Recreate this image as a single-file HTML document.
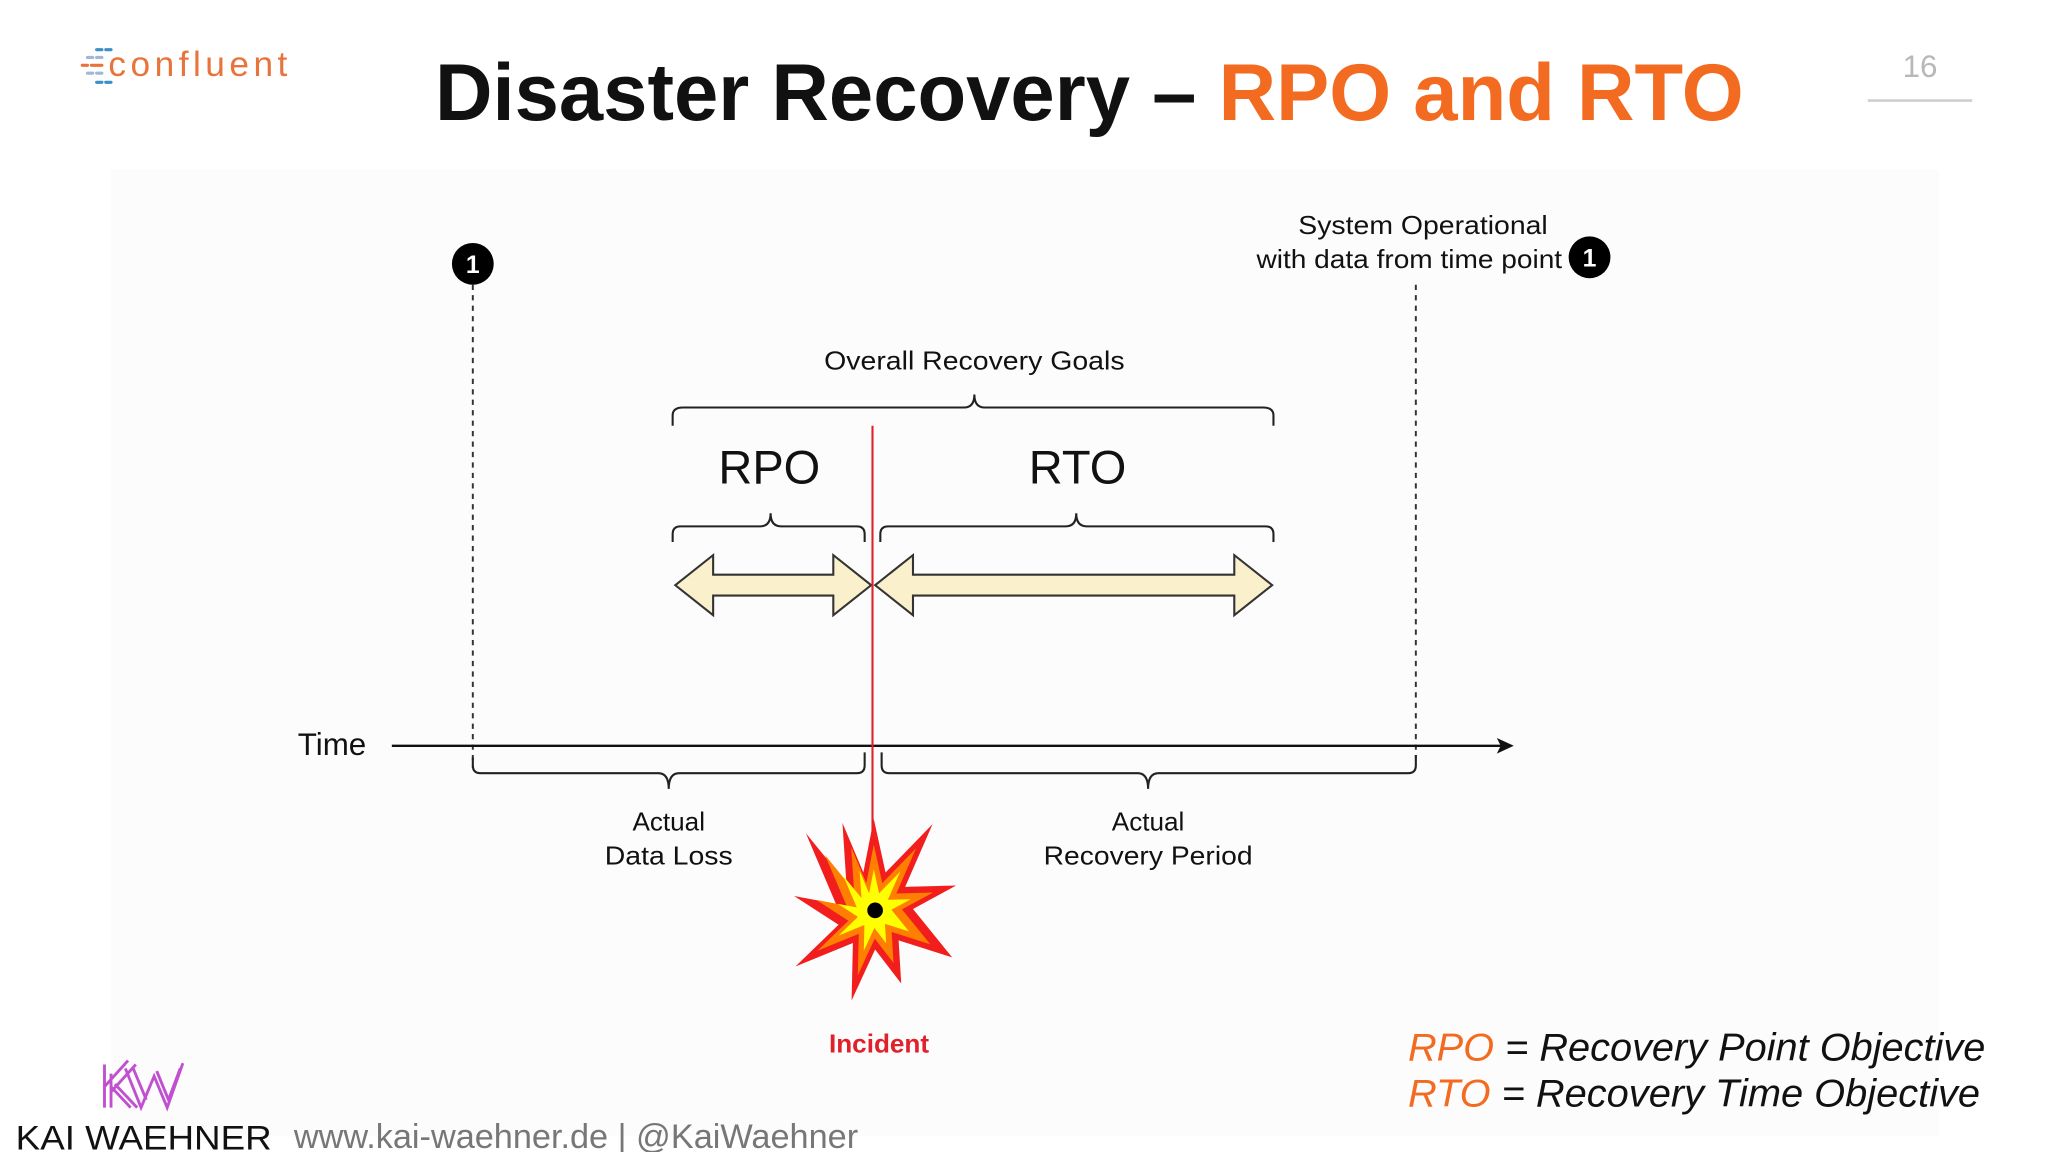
<!DOCTYPE html>
<html><head><meta charset="utf-8"><style>
html,body{margin:0;padding:0;background:#fff;}
svg{display:block;}
</style></head><body>
<svg width="2048" height="1152" viewBox="0 0 1568 882" xmlns="http://www.w3.org/2000/svg" font-family="Liberation Sans, sans-serif">
<rect width="1568" height="882" fill="#fff"/>
<rect x="85" y="130" width="1400" height="740" fill="#fcfcfc"/>
<!-- confluent logo -->
<g stroke-width="2.4" stroke-linecap="round">
<line x1="74" y1="38" x2="78" y2="38" stroke="#3a8fc6"/><line x1="81" y1="38" x2="85" y2="38" stroke="#3a8fc6"/>
<line x1="67" y1="44" x2="71" y2="44" stroke="#9fb8d6"/><line x1="74" y1="44" x2="78" y2="44" stroke="#9fb8d6"/>
<line x1="63" y1="50" x2="67" y2="50" stroke="#e8743b"/><line x1="70" y1="50" x2="78" y2="50" stroke="#e8743b"/>
<line x1="67" y1="56" x2="71" y2="56" stroke="#9fb8d6"/><line x1="74" y1="56" x2="78" y2="56" stroke="#9fb8d6"/>
<line x1="74" y1="63" x2="78" y2="63" stroke="#3a8fc6"/><line x1="81" y1="63" x2="85" y2="63" stroke="#3a8fc6"/>
</g>
<text x="83" y="58" font-size="27" fill="#e8743b" textLength="137" lengthAdjust="spacing">confluent</text>
<!-- title -->
<text x="333" y="92" font-size="62" font-weight="bold" fill="#111" textLength="1002" lengthAdjust="spacingAndGlyphs">Disaster Recovery – <tspan fill="#f26b21">RPO and RTO</tspan></text>
<text x="1470" y="59" text-anchor="middle" font-size="24" fill="#b8b8b8">16</text>
<line x1="1430" y1="77" x2="1510" y2="77" stroke="#cfcfcf" stroke-width="2"/>
<!-- markers -->
<circle cx="362" cy="202" r="16" fill="#000"/>
<text x="362" y="209" text-anchor="middle" font-size="19" font-weight="bold" fill="#fff">1</text>
<line x1="362" y1="218" x2="362" y2="588" stroke="#333" stroke-width="1.5" stroke-dasharray="4,4"/>
<text x="994" y="179" font-size="20" fill="#111" textLength="191" lengthAdjust="spacingAndGlyphs">System Operational</text>
<text x="962" y="205" font-size="20" fill="#111" textLength="234" lengthAdjust="spacingAndGlyphs">with data from time point</text>
<circle cx="1217" cy="197" r="16" fill="#000"/>
<text x="1217" y="204" text-anchor="middle" font-size="19" font-weight="bold" fill="#fff">1</text>
<line x1="1084" y1="218" x2="1084" y2="580" stroke="#333" stroke-width="1.5" stroke-dasharray="4,4"/>
<!-- overall -->
<text x="631" y="283" font-size="20" fill="#111" textLength="230" lengthAdjust="spacingAndGlyphs">Overall Recovery Goals</text>
<g fill="none" stroke="#222" stroke-width="1.6">
<path d="M515,326 L515,318 Q515,312 523,312 L738,312 Q746,312 746,302 Q746,312 754,312 L967,312 Q975,312 975,318 L975,326"/>
<path d="M515,415 L515,409 Q515,403 521,403 L582,403 Q590,403 590,393 Q590,403 598,403 L656,403 Q662,403 662,409 L662,415"/>
<path d="M674,415 L674,409 Q674,403 680,403 L816,403 Q824,403 824,393 Q824,403 832,403 L969,403 Q975,403 975,409 L975,415"/>
<path d="M362,580 L362,586 Q362,592 368,592 L504,592 Q512,592 512,604 Q512,592 520,592 L656,592 Q662,592 662,586 L662,576"/>
<path d="M675,576 L675,586 Q675,592 681,592 L871,592 Q879,592 879,604 Q879,592 887,592 L1078,592 Q1084,592 1084,586 L1084,578"/>
</g>
<text x="589" y="370" text-anchor="middle" font-size="36" fill="#111">RPO</text>
<text x="825" y="370" text-anchor="middle" font-size="36" fill="#111">RTO</text>
<!-- arrows -->
<g fill="#fbf0cc" stroke="#333" stroke-width="1.6" stroke-linejoin="miter">
<polygon points="517,448 546,425 546,440 638,440 638,425 667,448 638,471 638,456 546,456 546,471"/>
<polygon points="670,448 699,425 699,440 945,440 945,425 974,448 945,471 945,456 699,456 699,471"/>
</g>
<!-- time axis -->
<text x="228" y="578" font-size="24" fill="#111">Time</text>
<line x1="300" y1="571" x2="1150" y2="571" stroke="#111" stroke-width="1.8"/>
<polygon points="1159,571 1146,565 1149,571 1146,577" fill="#111"/>
<!-- red line -->
<line x1="668" y1="326" x2="668" y2="645" stroke="#e0202a" stroke-width="1.6"/>
<text x="512" y="636" text-anchor="middle" font-size="20" fill="#111">Actual</text>
<text x="512" y="662" text-anchor="middle" font-size="20" fill="#111" textLength="98" lengthAdjust="spacingAndGlyphs">Data Loss</text>
<text x="879" y="636" text-anchor="middle" font-size="20" fill="#111">Actual</text>
<text x="879" y="662" text-anchor="middle" font-size="20" fill="#111" textLength="160" lengthAdjust="spacingAndGlyphs">Recovery Period</text>
<!-- explosion -->
<g>
<polygon fill="#f21d1d" points="669,627 678,668 714,631 693,679 732,678 699,696 729,733 688,720 690,753 670,727 652,766 653,722 609,740 642,708 608,686 640,692 617,638 648,676 645,630 661,668"/>
<polygon fill="#ff7f00" transform="translate(669,697) scale(0.72) translate(-669,-697)" points="669,627 678,668 714,631 693,679 732,678 699,696 729,733 688,720 690,753 670,727 652,766 653,722 609,740 642,708 608,686 640,692 617,638 648,676 645,630 661,668"/>
<polygon fill="#ffff00" transform="translate(669,697) scale(0.45) translate(-669,-697)" points="669,627 678,668 714,631 693,679 732,678 699,696 729,733 688,720 690,753 670,727 652,766 653,722 609,740 642,708 608,686 640,692 617,638 648,676 645,630 661,668"/>
<circle cx="670" cy="697" r="6" fill="#000"/>
</g>
<text x="673" y="806" text-anchor="middle" font-size="20" font-weight="bold" fill="#e0202a">Incident</text>
<!-- legend -->
<text x="1078" y="812" font-size="30" font-style="italic" fill="#111" textLength="442" lengthAdjust="spacingAndGlyphs"><tspan fill="#f26b21">RPO</tspan> = Recovery Point Objective</text>
<text x="1078" y="847" font-size="30" font-style="italic" fill="#111" textLength="438" lengthAdjust="spacingAndGlyphs"><tspan fill="#f26b21">RTO</tspan> = Recovery Time Objective</text>
<!-- KW logo -->
<g stroke="#c050d0" stroke-width="2.2" fill="none">
<path d="M80,848 L80,815 M85,848 L85,822 M80,832 L98,812 M85,836 L104,815 M85,832 L100,848 M88,830 L105,848"/>
<path d="M96,818 L108,848 L118,824 L128,848 L140,814 M102,818 L112,842 M120,820 L129,842 L138,818"/>
</g>
<text x="12" y="880" font-size="26" fill="#111" textLength="196" lengthAdjust="spacingAndGlyphs">KAI WAEHNER</text>
<text x="225" y="879" font-size="26" fill="#777" textLength="432" lengthAdjust="spacingAndGlyphs">www.kai-waehner.de | @KaiWaehner</text>
</svg>
</body></html>
